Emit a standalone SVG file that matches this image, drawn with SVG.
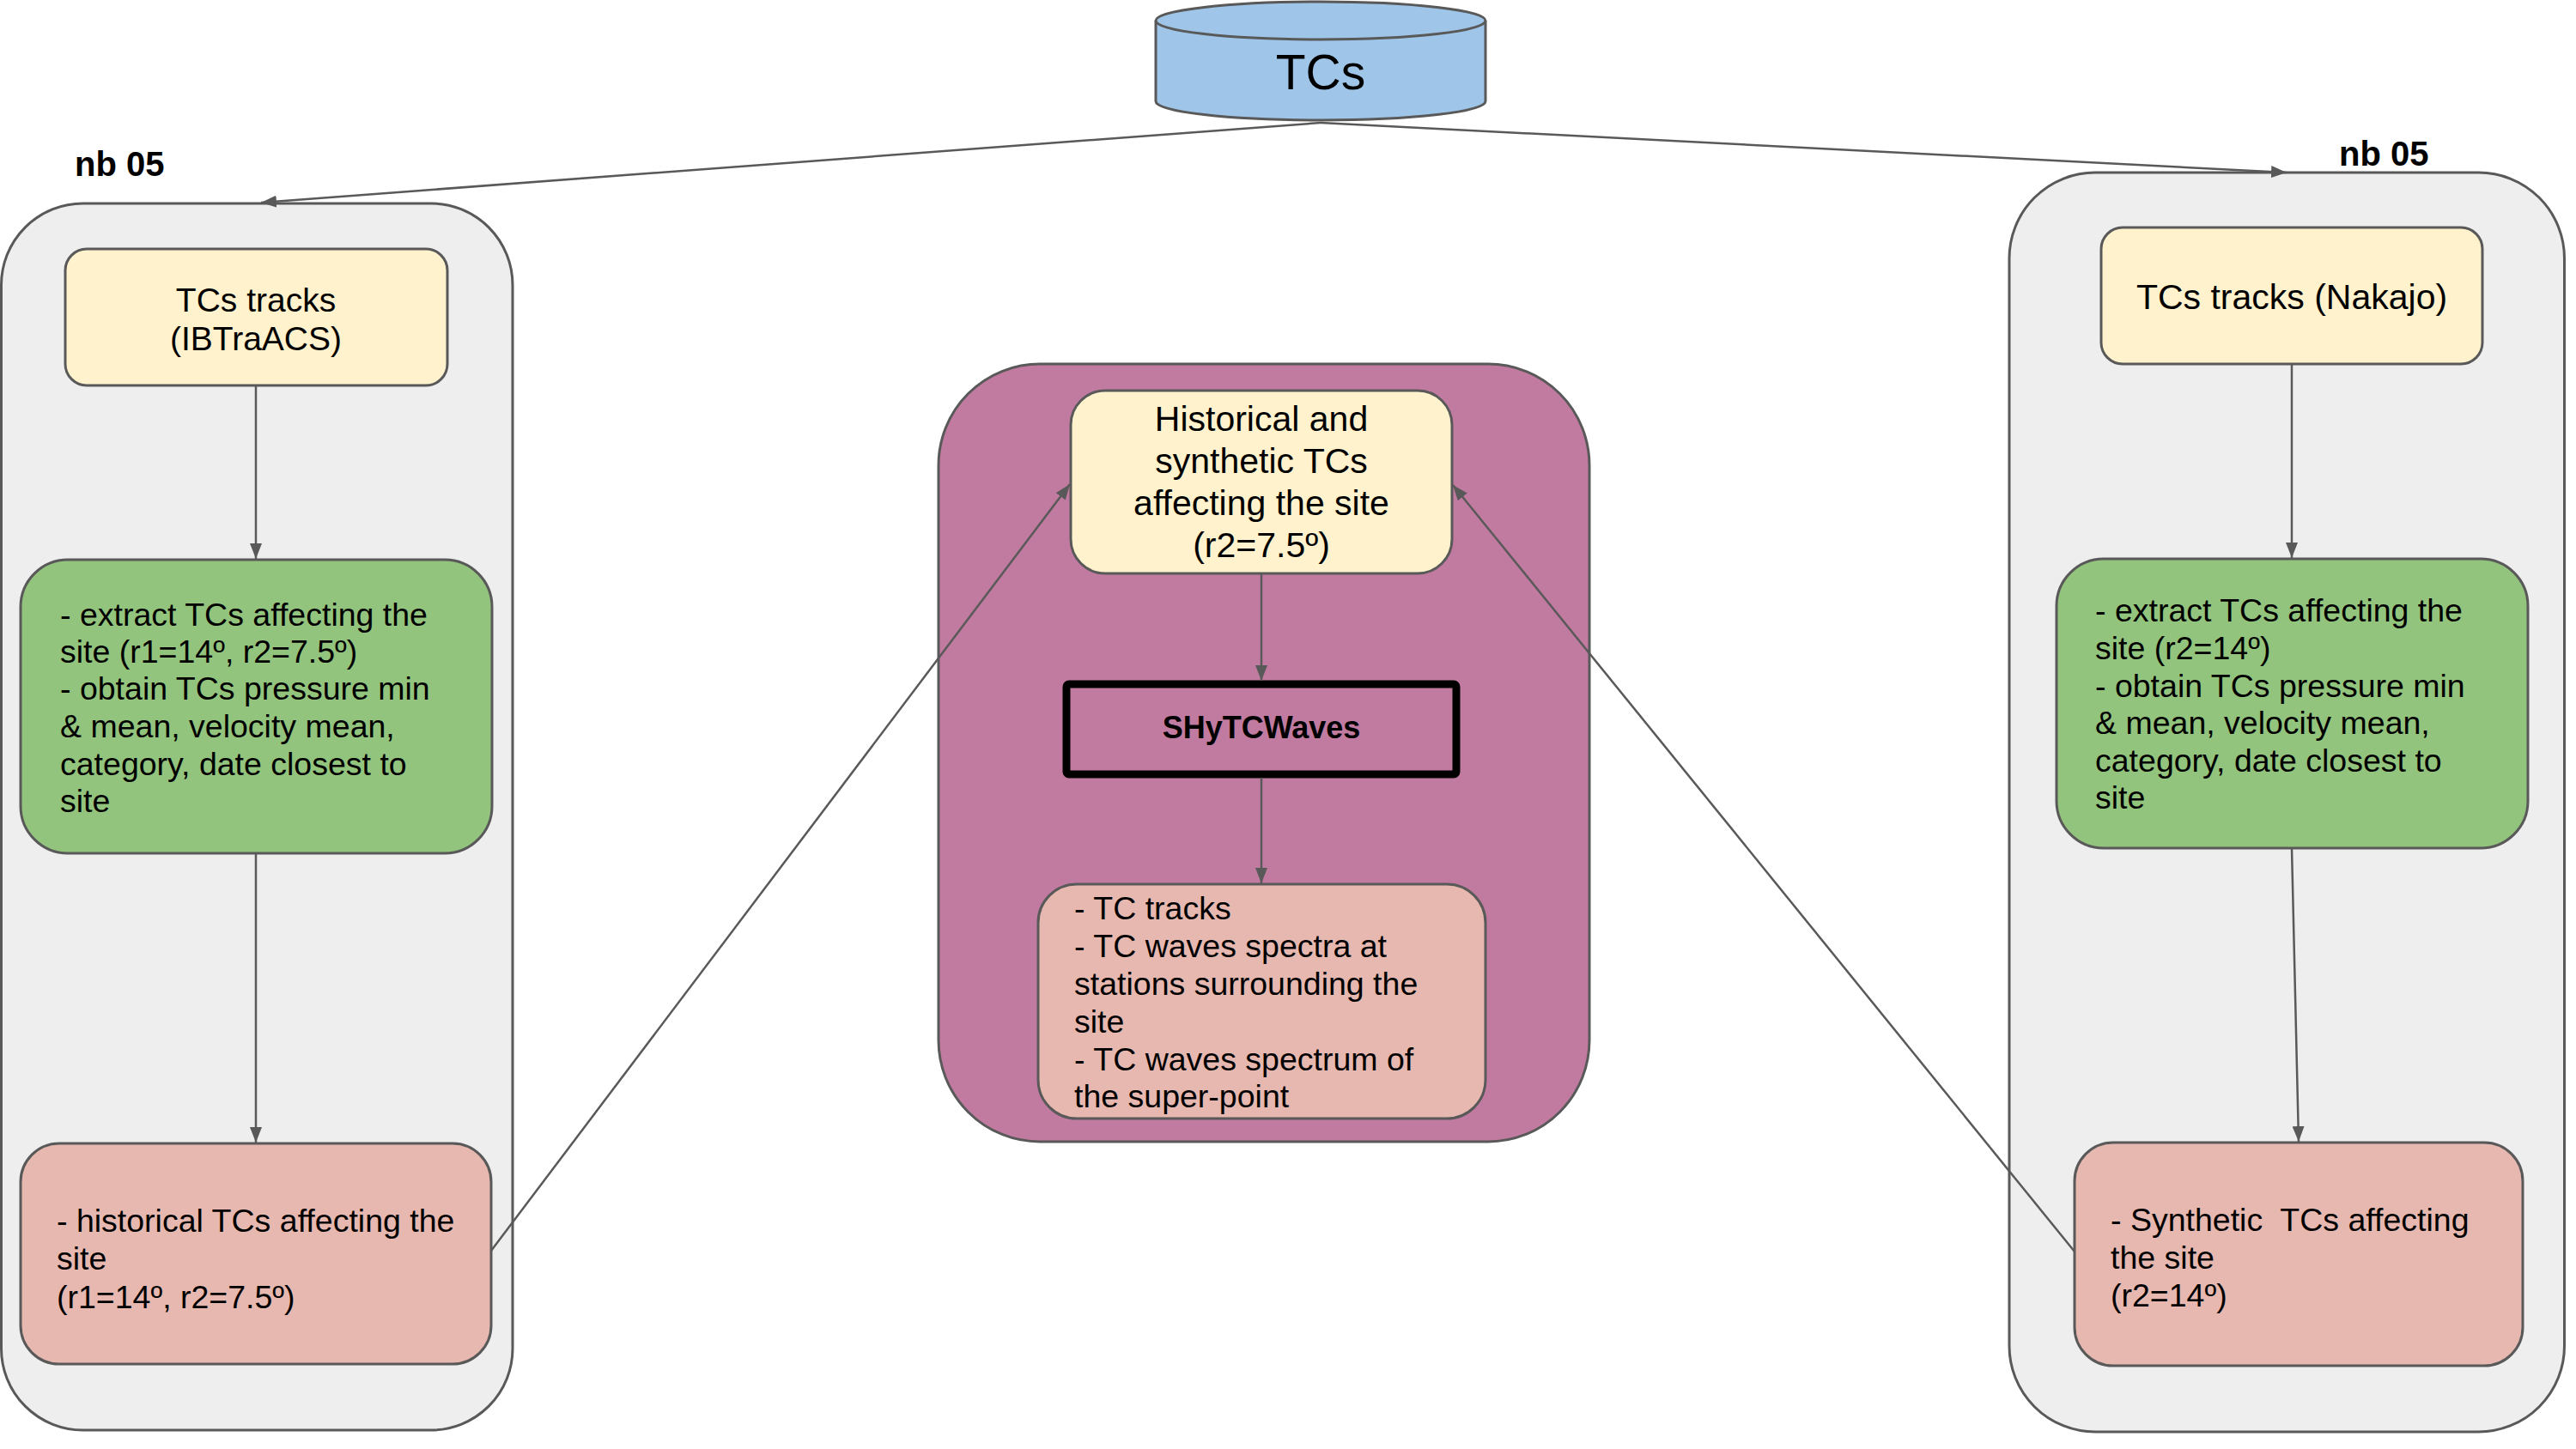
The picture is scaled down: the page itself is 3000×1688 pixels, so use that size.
<svg xmlns="http://www.w3.org/2000/svg" width="3000" height="1688" viewBox="0 0 3000 1688">
<style>
.box{stroke:#595959;stroke-width:3}
.cont{fill:#eeeeee;stroke:#595959;stroke-width:3}
.yel{fill:#fff2cc}
.grn{fill:#93c47d}
.pnk{fill:#e6b8af}
.t{font-family:"Liberation Sans",Arial,sans-serif;fill:#000000}
.body{font-size:37.5px}
.big{font-size:41px}
.c{text-anchor:middle}
.b{font-weight:bold}
.conn line{stroke:#595959;stroke-width:2.5;fill:none;marker-end:url(#ah)}
</style>
<defs>
<marker id="ah" markerUnits="userSpaceOnUse" markerWidth="18" markerHeight="14" refX="18" refY="7" orient="auto">
<path d="M0,0 L18,7 L0,14 z" fill="#595959"/>
</marker>
</defs>
<rect width="3000" height="1688" fill="#ffffff"/>

<g id="left-container">
<rect class="cont" x="1.5" y="237" width="595.5" height="1429" rx="95" ry="95"/>
<text class="t b" x="87" y="205" font-size="40">nb 05</text>
</g>
<g id="right-container">
<rect class="cont" x="2340" y="201" width="646.5" height="1467" rx="100" ry="100"/>
<text class="t b" x="2724" y="193" font-size="40">nb 05</text>
</g>
<g id="center-container">
<rect x="1093" y="424" width="758" height="906" rx="118" ry="118" fill="#c27ba0" stroke="#595959" stroke-width="3"/>
</g>

<g id="tcs-db">
<path d="M1346,24 L1346,118 A192,22 0 0 0 1730,118 L1730,24" fill="#9fc5e8" stroke="#595959" stroke-width="3"/>
<ellipse cx="1538" cy="24" rx="192" ry="22" fill="#9fc5e8" stroke="#595959" stroke-width="3"/>
<text class="t c" x="1538" y="104" font-size="57">TCs</text>
</g>

<g id="left-tracks">
<rect class="box yel" x="76" y="290" width="445" height="159" rx="25" ry="25"/>
<text class="t c" x="298" y="363" font-size="39">TCs tracks</text>
<text class="t c" x="298" y="408" font-size="39">(IBTraACS)</text>
</g>
<g id="left-extract">
<rect class="box grn" x="24" y="652" width="549" height="342" rx="55" ry="55"/>
<text class="t body" x="70" y="729">- extract TCs affecting the</text>
<text class="t body" x="70" y="772">site (r1=14º, r2=7.5º)</text>
<text class="t body" x="70" y="815">- obtain TCs pressure min</text>
<text class="t body" x="70" y="859">&amp; mean, velocity mean,</text>
<text class="t body" x="70" y="903">category, date closest to</text>
<text class="t body" x="70" y="946">site</text>
</g>
<g id="left-historical">
<rect class="box pnk" x="24" y="1332" width="548" height="257" rx="45" ry="45"/>
<text class="t body" x="66" y="1435">- historical TCs affecting the</text>
<text class="t body" x="66" y="1479">site</text>
<text class="t body" x="66" y="1524">(r1=14º, r2=7.5º)</text>
</g>

<g id="right-tracks">
<rect class="box yel" x="2447" y="265" width="444" height="159" rx="25" ry="25"/>
<text class="t big c" x="2669" y="360">TCs tracks (Nakajo)</text>
</g>
<g id="right-extract">
<rect class="box grn" x="2395" y="651" width="549" height="337" rx="55" ry="55"/>
<text class="t body" x="2440" y="724">- extract TCs affecting the</text>
<text class="t body" x="2440" y="768">site (r2=14º)</text>
<text class="t body" x="2440" y="812">- obtain TCs pressure min</text>
<text class="t body" x="2440" y="855">&amp; mean, velocity mean,</text>
<text class="t body" x="2440" y="899">category, date closest to</text>
<text class="t body" x="2440" y="942">site</text>
</g>
<g id="right-synthetic">
<rect class="box pnk" x="2416" y="1331" width="522" height="260" rx="45" ry="45"/>
<text class="t body" x="2458" y="1434" xml:space="preserve" style="white-space:pre">- Synthetic  TCs affecting</text>
<text class="t body" x="2458" y="1478">the site</text>
<text class="t body" x="2458" y="1522">(r2=14º)</text>
</g>

<g id="center-input">
<rect class="box yel" x="1247" y="455" width="444" height="213" rx="40" ry="40"/>
<text class="t big c" x="1469" y="502">Historical and</text>
<text class="t big c" x="1469" y="551">synthetic TCs</text>
<text class="t big c" x="1469" y="600">affecting the site</text>
<text class="t big c" x="1469" y="649">(r2=7.5º)</text>
</g>
<g id="shytcwaves">
<rect x="1242" y="797" width="454" height="105" rx="3" ry="3" fill="none" stroke="#000000" stroke-width="9"/>
<text class="t b c" x="1469" y="860" font-size="36">SHyTCWaves</text>
</g>
<g id="center-output">
<rect class="box pnk" x="1209" y="1030" width="521" height="273" rx="45" ry="45"/>
<text class="t body" x="1251" y="1071">- TC tracks</text>
<text class="t body" x="1251" y="1115">- TC waves spectra at</text>
<text class="t body" x="1251" y="1159">stations surrounding the</text>
<text class="t body" x="1251" y="1203">site</text>
<text class="t body" x="1251" y="1247">- TC waves spectrum of</text>
<text class="t body" x="1251" y="1290">the super-point</text>
</g>

<g id="connectors" class="conn">
<line x1="1538" y1="143" x2="304" y2="236"/>
<line x1="1538" y1="143" x2="2663" y2="201"/>
<line x1="298" y1="449" x2="298" y2="651"/>
<line x1="298" y1="994" x2="298" y2="1331"/>
<line x1="2669" y1="424" x2="2669" y2="650"/>
<line x1="2669" y1="988" x2="2677" y2="1330"/>
<line x1="1469" y1="668" x2="1469" y2="793"/>
<line x1="1469" y1="906" x2="1469" y2="1029"/>
<line x1="572" y1="1457" x2="1246" y2="564"/>
<line x1="2416" y1="1458" x2="1692" y2="565"/>
</g>
</svg>
